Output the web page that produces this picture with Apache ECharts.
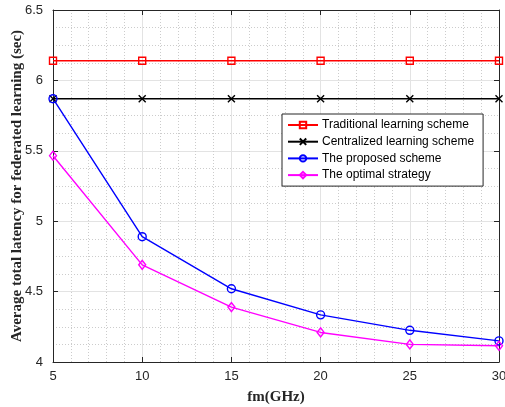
<!DOCTYPE html>
<html>
<head>
<meta charset="utf-8">
<script src="https://cdn.jsdelivr.net/npm/echarts@6/dist/echarts.min.js"></script>
<style>
html,body{margin:0;padding:0;background:#fff;}
#chart{width:505px;height:407px;}
</style>
</head>
<body>
<div id="chart"></div>
<script>
var fm = [5, 10, 15, 20, 25, 30];
var traditional = [6.14, 6.14, 6.14, 6.14, 6.14, 6.14];
var centralized = [5.87, 5.87, 5.87, 5.87, 5.87, 5.87];
var proposed = [5.87, 4.89, 4.52, 4.335, 4.225, 4.15];
var optimal = [5.465, 4.69, 4.39, 4.21, 4.125, 4.115];
var seriesNames = ['Traditional learning scheme', 'Centralized learning scheme', 'The proposed scheme', 'The optimal strategy'];

function pairs(xs, ys) { return xs.map(function (x, i) { return [x, ys[i]]; }); }

var axisColor = '#262626';
var tickFont = 'Liberation Sans, Arial, Helvetica, sans-serif';
var serifFont = 'Liberation Serif, Times New Roman, serif';

function mkSeries(name, data, color, symbol, size) {
  return {
    name: name, type: 'line', data: pairs(fm, data),
    symbol: symbol, symbolSize: size,
    showAllSymbol: true, clip: false,
    lineStyle: { color: color, width: 1.4 },
    itemStyle: { color: 'rgba(255,255,255,0)', borderColor: color, borderWidth: 1.4 },
    emphasis: { disabled: true },
    animation: false
  };
}

var chart = echarts.init(document.getElementById('chart'), null, { renderer: 'canvas' });
chart.setOption({
  backgroundColor: '#fff',
  animation: false,
  grid: { left: 53, right: 6, top: 10, bottom: 45, containLabel: false, outerBoundsMode: 'none' },
  legend: {
    orient: 'vertical', left: 282, top: 114,
    padding: [5, 9, 5, 5], itemGap: 4.7, itemWidth: 30, itemHeight: 8,
    backgroundColor: '#fff', borderColor: axisColor, borderWidth: 1,
    textStyle: { fontFamily: tickFont, fontSize: 12, color: '#000', padding: [0, 0, 0, -1] },
    data: seriesNames
  },
  xAxis: [{
    type: 'value', min: 5, max: 30, interval: 5,
    name: 'fm(GHz)', nameLocation: 'middle', nameGap: 28, nameMoveOverlap: false,
    nameTextStyle: { fontFamily: serifFont, fontWeight: 'bold', fontSize: 15, color: axisColor },
    axisLine: { show: true, lineStyle: { color: axisColor, width: 1 } },
    axisTick: { show: true, inside: true, length: 5, lineStyle: { color: axisColor } },
    axisLabel: { fontFamily: tickFont, fontSize: 13, color: axisColor, margin: 8 },
    splitLine: { show: true, lineStyle: { color: '#e3e3e3', width: 1 } },
    minorTick: { show: false, splitNumber: 5 },
    minorSplitLine: { show: true, lineStyle: { color: '#cccccc', width: 1, type: [1, 2] } }
  }, {
    type: 'value', min: 5, max: 30, interval: 5, position: 'top',
    axisLine: { show: true, lineStyle: { color: axisColor, width: 1 } },
    axisTick: { show: true, inside: true, length: 5, lineStyle: { color: axisColor } },
    axisLabel: { show: false }, splitLine: { show: false }
  }],
  yAxis: [{
    type: 'value', min: 4, max: 6.5, interval: 0.5,
    name: 'Average total latency for federated learning (sec)', nameLocation: 'middle', nameGap: 28, nameMoveOverlap: false,
    nameTextStyle: { fontFamily: serifFont, fontWeight: 'bold', fontSize: 15, color: axisColor },
    axisLine: { show: true, lineStyle: { color: axisColor, width: 1 } },
    axisTick: { show: true, inside: true, length: 5, lineStyle: { color: axisColor } },
    axisLabel: { fontFamily: tickFont, fontSize: 13, color: axisColor, margin: 10 },
    splitLine: { show: true, lineStyle: { color: '#e3e3e3', width: 1 } },
    minorTick: { show: false, splitNumber: 4 },
    minorSplitLine: { show: true, lineStyle: { color: '#cccccc', width: 1, type: [1, 2] } }
  }, {
    type: 'value', min: 4, max: 6.5, interval: 0.5, position: 'right',
    axisLine: { show: true, lineStyle: { color: axisColor, width: 1 } },
    axisTick: { show: true, inside: true, length: 5, lineStyle: { color: axisColor } },
    axisLabel: { show: false }, splitLine: { show: false }
  }],
  series: [
    mkSeries(seriesNames[0], traditional, '#ff0000', 'rect', 7),
    mkSeries(seriesNames[1], centralized, '#000000', 'path://M0,0L10,10M10,0L0,10', 7),
    mkSeries(seriesNames[2], proposed, '#0000ff', 'circle', 8),
    mkSeries(seriesNames[3], optimal, '#ff00ff', 'diamond', [7, 9])
  ]
});
</script>
</body>
</html>
